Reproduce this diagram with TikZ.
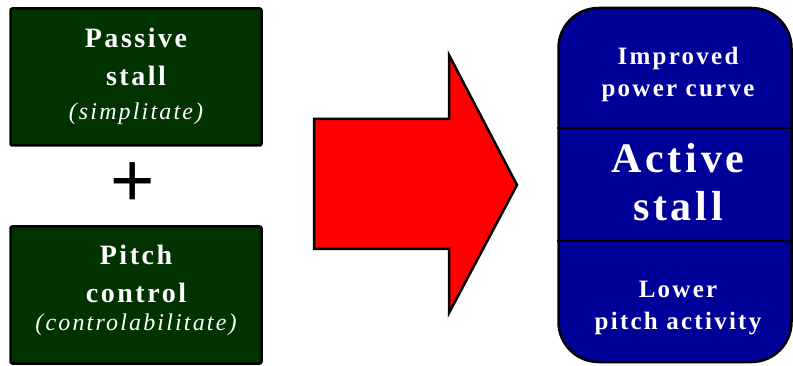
\documentclass[tikz,border=0pt]{standalone}
\usepackage{fontspec}
\setmainfont{Liberation Serif}
\newfontfamily\spacedserif[LetterSpace=9]{Liberation Serif}
\newfontfamily\plusfont{Liberation Sans}
\definecolor{stallgreen}{RGB}{0,51,0}
\definecolor{stallblue}{RGB}{0,0,153}
\begin{document}
\begin{tikzpicture}[x=1pt,y=-1pt,
    conceptbox/.style={draw=black, line width=2.5pt, fill=stallgreen, rounded corners=2pt,
      minimum width=251pt, minimum height=137pt, inner sep=0pt},
    boxtext/.style={text=white, align=center, font=\spacedserif\bfseries\fontsize{28}{38}\selectfont},
    notetext/.style={text=white, font=\spacedserif\itshape\fontsize{24}{30}\selectfont},
    resulttext/.style={text=white, align=center, font=\spacedserif\bfseries\fontsize{25}{32}\selectfont},
    bigtext/.style={text=white, align=center, font=\spacedserif\bfseries\fontsize{42}{48}\selectfont}]
  \useasboundingbox (0,0) rectangle (793,366);
  % left: the two combined concepts
  \node[conceptbox] (passive) at (136,77) {};
  \node[boxtext] (passivename) at (136,57) {Passive\\stall};
  \node[notetext] (passivenote) at (136,114) {(simplitate)};
  \node[font=\plusfont\fontsize{76}{76}\selectfont] (plus) at (133,185) {+};
  \node[conceptbox] (pitch) at (136,295) {};
  \node[boxtext] (pitchname) at (136,274) {Pitch\\control};
  \node[notetext] (pitchnote) at (136,325) {(controlabilitate)};
  % big arrow
  \draw[fill=red, line width=2.5pt, line join=miter] (314,119) -- (449,119) -- (449,55) -- (517,185)
    -- (449,313) -- (449,249) -- (314,249) -- cycle;
  % right: the result
  \node[draw=black, line width=2.5pt, fill=stallblue, rounded corners=40pt,
    minimum width=233pt, minimum height=354pt] (active) at (675,185) {};
  \draw[line width=1.2pt] (active.west |- 0,128) -- (active.east |- 0,128);
  \draw[line width=1.2pt] (active.west |- 0,241) -- (active.east |- 0,241);
  \node[resulttext] (power) at (678,74) {Improved\\power curve};
  \node[bigtext] (activename) at (678,182) {Active\\stall};
  \node[resulttext] (lower) at (678,308) {Lower\\pitch activity};
\end{tikzpicture}
\end{document}
